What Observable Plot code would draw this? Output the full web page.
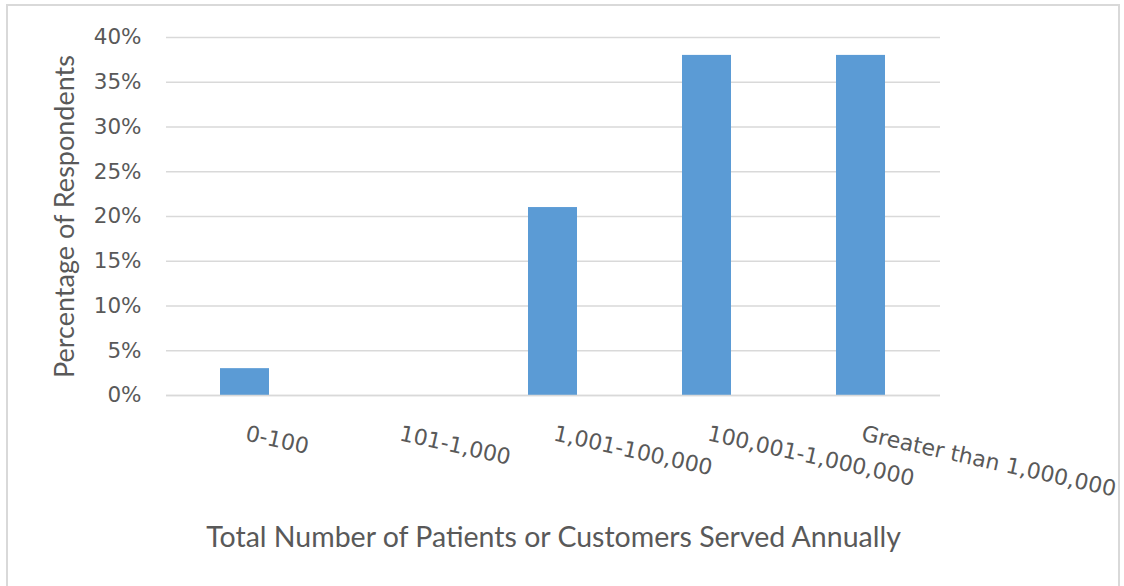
<!DOCTYPE html>
<html>
<head>
<meta charset="utf-8">
<script src="https://cdn.jsdelivr.net/npm/d3@7"></script>
<script src="https://cdn.jsdelivr.net/npm/@observablehq/plot@0.6"></script>
<style>
  html, body { margin: 0; padding: 0; background: #fff; }
  #wrap { position: relative; width: 1124px; height: 586px; overflow: hidden; }
  #frame { position: absolute; left: 6px; top: 4px; width: 1114px; height: 590px; border: 2px solid #d9d9d9; box-sizing: border-box; }
  #chart { position: absolute; left: 0; top: 0; }
</style>
</head>
<body>
<div id="wrap"><div id="frame"></div><div id="chart"></div></div>
<script>
const categories = ["0-100", "101-1,000", "1,001-100,000", "100,001-1,000,000", "Greater than 1,000,000"];
const values = [0.03, 0.0, 0.21, 0.38, 0.38];
const yTicks = [0, 0.05, 0.10, 0.15, 0.20, 0.25, 0.30, 0.35, 0.40];
const xTitle = "Total Number of Patients or Customers Served Annually";
const yTitle = "Percentage of Respondents";

const data = categories.map((c, i) => ({category: c, value: values[i]}));

const chart = Plot.plot({
  width: 1124,
  height: 586,
  marginLeft: 166,
  marginRight: 184,
  marginTop: 37,
  marginBottom: 191,
  style: {background: "transparent", color: "#595959", fontFamily: "'DejaVu Sans', sans-serif"},
  x: {domain: categories, paddingInner: 0.68, paddingOuter: 0.34},
  y: {domain: [0, 0.4]},
  marks: [
    Plot.gridY(yTicks, {stroke: "#d9d9d9", strokeOpacity: 1, strokeWidth: 1.3}),
    Plot.barY(data, {x: "category", y: "value", fill: "#5b9bd5"}),
    Plot.ruleY([0], {stroke: "#d9d9d9", strokeWidth: 1.5}),
    Plot.axisY(yTicks, {
      tickFormat: d3.format(".0%"), tickSize: 0, tickPadding: 25,
      fontSize: 21.5, fill: "#595959",
      label: yTitle, labelAnchor: "center", labelArrow: "none", labelOffset: 112
    }),
    Plot.axisX({
      tickSize: 0, tickRotate: 12.5, textAnchor: "start", lineAnchor: "middle",
      dy: 25, dx: 1, fontSize: 22, fill: "#595959",
      label: null
    }),
    Plot.axisX({
      ticks: [], tickSize: 0,
      label: xTitle, labelAnchor: "center", labelArrow: "none", labelOffset: 151
    })
  ]
});

d3.select(chart).selectAll("[aria-label='y-axis label'] text")
  .style("font-family", "Lato, sans-serif").style("font-size", "27px").attr("fill", "#595959");
d3.select(chart).selectAll("[aria-label='x-axis label'] text")
  .style("font-family", "Lato, sans-serif").style("font-size", "28.5px").attr("fill", "#595959");

document.getElementById("chart").appendChild(chart);
</script>
</body>
</html>
